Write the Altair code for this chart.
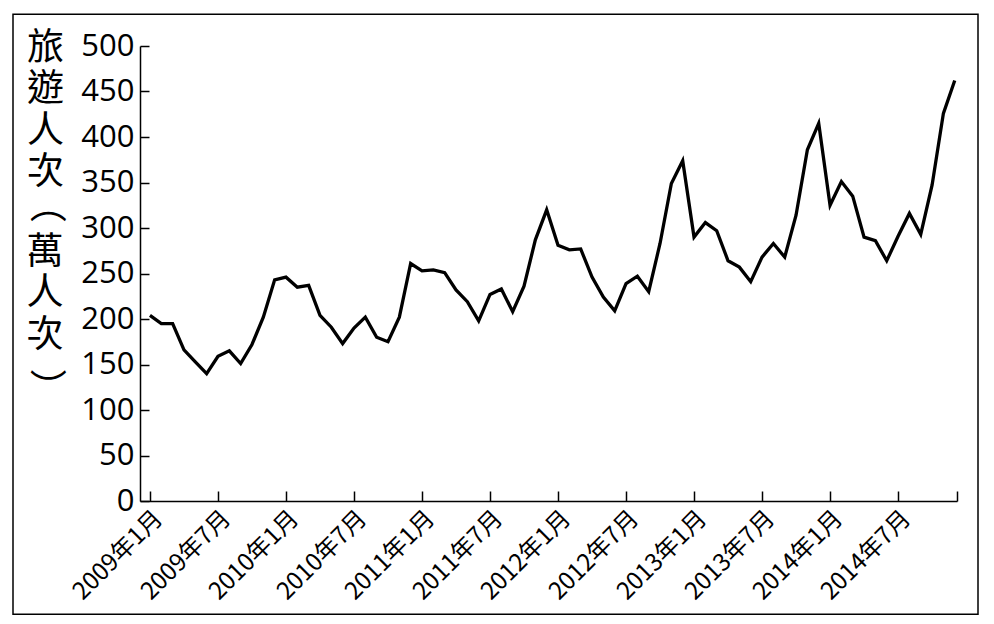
import altair as alt
import pandas as pd

# Monthly tourist visits (10k person-trips), 2009-01 .. 2014-12
month_index = list(range(72))
values = [204, 195, 195, 166, 153, 140, 159, 165, 151, 172, 202, 243,
          246, 235, 237, 204, 191, 173, 190, 202, 180, 175, 202, 261,
          253, 254, 251, 232, 219, 198, 227, 233, 208, 236, 287, 320,
          281, 276, 277, 246, 224, 209, 239, 247, 230, 283, 349, 374,
          290, 306, 297, 264, 257, 241, 268, 283, 268, 314, 386, 415,
          325, 351, 335, 290, 286, 264, 291, 316, 293, 347, 426, 462]

tick_months = [0, 6, 12, 18, 24, 30, 36, 42, 48, 54, 60, 66]
tick_labels = ["2009年1月", "2009年7月", "2010年1月", "2010年7月",
               "2011年1月", "2011年7月", "2012年1月", "2012年7月",
               "2013年1月", "2013年7月", "2014年1月", "2014年7月"]
y_ticks = [0, 50, 100, 150, 200, 250, 300, 350, 400, 450, 500]
# vertical title "旅遊人次（萬人次）", drawn in parts
y_title_a = ["旅", "遊", "人", "次"]
y_title_b = ["萬", "人", "次"]
paren_open, paren_close = "（", "）"

df = pd.DataFrame({"m": month_index, "v": values})

FONT = "Noto Sans CJK TC"
NUM_FONT = "Open Sans"
W, H = 817, 455
x_domain = [-0.88, 71.2]
TITLE_X = -95
TITLE_Y = -16
TITLE_FS = 37
LH = 41.5

label_js = "[" + ",".join("'" + s + "'" for s in tick_labels) + "]"
label_expr = label_js + "[round(datum.value / 6)]"

x_scale = alt.Scale(domain=x_domain, nice=False, zero=False)
y_scale = alt.Scale(domain=[0, 500], nice=False)

main = alt.Chart(df).mark_line(color="black", strokeWidth=3.3).encode(
    x=alt.X("m:Q", scale=x_scale,
            axis=alt.Axis(orient="bottom", values=tick_months, labelExpr=label_expr,
                          ticks=False, tickSize=0, grid=False, title=None,
                          labelAngle=-45, labelAlign="right", labelBaseline="top",
                          labelFontSize=24, labelFont=FONT, labelColor="black",
                          labelPadding=5, domainColor="black", domainWidth=1.5,
                          labelOverlap=False, labelFlush=False)),
    y=alt.Y("v:Q", scale=y_scale,
            axis=alt.Axis(orient="left", values=y_ticks, ticks=False, tickSize=0,
                          grid=False, labelFontSize=31, labelFont=NUM_FONT,
                          labelColor="black", labelPadding=6,
                          domainColor="black", domainWidth=1.5,
                          title=y_title_a, titleAngle=0, titleX=TITLE_X, titleY=TITLE_Y,
                          titleAlign="center", titleBaseline="top",
                          titleFontSize=TITLE_FS, titleLineHeight=LH,
                          titleFont=FONT, titleFontWeight="normal",
                          titleColor="black", labelOverlap=False)),
)

ticks_layer = alt.Chart(df).mark_line(opacity=0).encode(
    x=alt.X("m:Q", scale=x_scale,
            axis=alt.Axis(orient="top", offset=-H, values=tick_months + [x_domain[1]],
                          labels=False, domain=False, ticks=True, tickSize=10,
                          tickWidth=1.5, tickColor="black", grid=False, title=None)),
    y=alt.Y("v:Q", scale=y_scale,
            axis=alt.Axis(orient="right", offset=-W, values=y_ticks,
                          labels=False, domain=False, ticks=True, tickSize=9,
                          tickWidth=1.5, tickColor="black", grid=False, title=None)),
)

one = pd.DataFrame({"k": [0]})
p_open = alt.Chart(one).mark_text(
    text=paren_open, angle=90, font=FONT, fontSize=TITLE_FS, color="black",
    align="center", baseline="middle"
).encode(x=alt.value(TITLE_X), y=alt.value(158.5))
title_b = alt.Chart(one).mark_text(
    text=y_title_b, font=FONT, fontSize=TITLE_FS, color="black",
    align="center", baseline="top", lineHeight=LH
).encode(x=alt.value(TITLE_X), y=alt.value(TITLE_Y + 5 * LH - 3))
p_close = alt.Chart(one).mark_text(
    text=paren_close, angle=90, font=FONT, fontSize=TITLE_FS, color="black",
    align="center", baseline="middle"
).encode(x=alt.value(TITLE_X), y=alt.value(341))

frame = alt.Chart(one).mark_rect(
    filled=False, stroke="black", strokeWidth=1.5
).encode(
    x=alt.value(-127), x2=alt.value(838),
    y=alt.value(-31.7), y2=alt.value(568.3),
)

chart = alt.layer(main, ticks_layer, p_open, title_b, p_close, frame).resolve_axis(
    x="independent", y="independent"
).properties(
    width=W, height=H,
    padding={"left": 4, "top": 5, "right": 5, "bottom": 5},
    background="white",
).configure_view(strokeWidth=0)

chart.save("out.html", embed_options={"renderer": "svg", "actions": False})
